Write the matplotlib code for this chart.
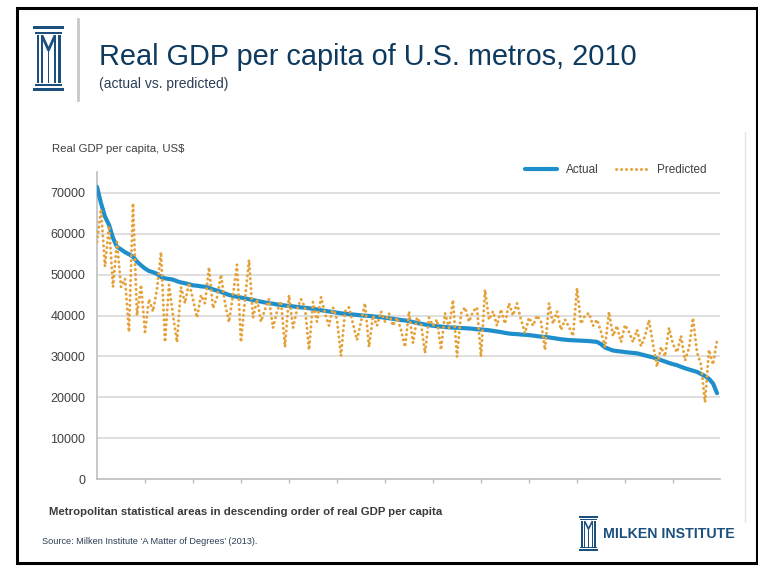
import matplotlib
matplotlib.use("Agg")
from matplotlib import pyplot as plt
from matplotlib.patches import Rectangle
import numpy as np

W, H = 758, 566

# real GDP per capita by metro, sorted by actual value (US$)
actual = [
    71500, 67500, 64200, 62200, 59000, 56800, 56200, 55500, 55000, 54400,
    53200, 52300, 51500, 50900, 50600, 50200, 49400, 49100, 48950, 48800,
    48400, 48100, 47900, 47650, 47400, 47300, 47150, 47050, 46800, 46400,
    46100, 45800, 45400, 45050, 44800, 44600, 44400, 44200, 44000, 43800,
    43600, 43400, 43200, 43000, 42900, 42700, 42600, 42450, 42350, 42250,
    42100, 42000, 41900, 41800, 41650, 41500, 41300, 41150, 41000, 40850,
    40700, 40550, 40450, 40350, 40250, 40150, 40050, 39950, 39900, 39800,
    39700, 39600, 39450, 39350, 39200, 39050, 38900, 38800, 38650, 38400,
    38200, 38000, 37800, 37650, 37500, 37400, 37300, 37200, 37100, 37050,
    37000, 36950, 36900, 36850, 36750, 36650, 36600, 36500, 36400, 36250,
    36100, 35950, 35750, 35600, 35500, 35450, 35350, 35300, 35200, 35100,
    34950, 34850, 34750, 34650, 34500, 34350, 34200, 34100, 34000, 33950,
    33900, 33850, 33800, 33750, 33650, 33550, 33000, 32200, 31800, 31450,
    31300, 31200, 31050, 30950, 30850, 30750, 30500, 30250, 30000, 29750,
    29500, 29100, 28750, 28400, 28100, 27850, 27450, 27100, 26800, 26500,
    26200, 25700, 25200, 24500, 23400, 21000,
]

predicted = [
    58000, 66000, 52000, 62000, 47000, 58000, 47000, 49000, 36000, 67500,
    40000, 47500, 36000, 44000, 41000, 46500, 55500, 33500, 47500, 40000,
    33500, 47000, 43000, 48000, 44000, 39500, 45000, 43000, 51800, 41800,
    44500, 50000, 43000, 38400, 45000, 52400, 33500, 44000, 53600, 39500,
    44000, 38500, 41500, 44000, 37000, 41000, 43500, 32300, 45000, 37000,
    41500, 44000, 42000, 31600, 43300, 38500, 44500, 40500, 37500, 42000,
    39000, 30100, 41000, 42000, 38000, 34000, 38500, 43000, 32300, 40000,
    37500, 41000, 38500, 40500, 37500, 39500, 36500, 32300, 41000, 33300,
    39500, 38000, 30800, 39500, 37500, 39000, 31600, 40600, 37000, 43800,
    29900, 40500, 42000, 38500, 41000, 42000, 29900, 46300, 39000, 41000,
    37500, 41500, 38000, 43000, 40000, 43000, 39000, 35700, 39500, 37500,
    40000, 38500, 31600, 43000, 38000, 41000, 36500, 39000, 37200, 35000,
    46700, 38000, 40000, 40600, 37500, 39000, 36000, 32300, 40900, 35000,
    37500, 33500, 37700, 36000, 33500, 36500, 32500, 35000, 38900, 33000,
    27500, 32300, 30000, 37000, 33000, 31000, 35000, 29000, 32000, 39400,
    31000, 28000, 18800, 31600, 28000, 34000,
]

yticks = [0, 10000, 20000, 30000, 40000, 50000, 60000, 70000]

navy = "#0E3A5F"
logo_blue = "#1B4F7E"
sans = "Liberation Sans"

fig = plt.figure(figsize=(W / 100, H / 100), dpi=100)

# page layer in pixel coordinates
bg = fig.add_axes([0, 0, 1, 1])
bg.set_xlim(0, W)
bg.set_ylim(H, 0)
bg.axis("off")


def column_logo(ax, x0, y0, w, h, color):
    # little column with an M cut into it
    sx = w / 31.0
    sy = h / 65.0
    def bar(x, y, bw, bh):
        ax.add_patch(Rectangle((x0 + x * sx, y0 + y * sy), bw * sx, bh * sy,
                               color=color, lw=0))
    bar(0, 0, 31, 3.2)
    bar(2, 5.5, 27, 2.0)
    bar(3.5, 9, 2.4, 48)
    bar(25.1, 9, 2.4, 48)
    bar(8, 9, 2.0, 48)
    bar(21, 9, 2.0, 48)
    ax.plot([x0 + 9 * sx, x0 + 15.5 * sx, x0 + 22 * sx],
            [y0 + 9.5 * sy, y0 + 24 * sy, y0 + 9.5 * sy], color=color,
            lw=2.0 * sx, solid_capstyle="butt")
    bar(14.6, 24, 1.8, 33)
    bar(2, 58, 27, 2.0)
    bar(0, 61.8, 31, 3.2)


bg.add_patch(Rectangle((17, 8), 740, 555, fill=False, ec="black", lw=2.2))
column_logo(bg, 33, 26, 31, 65, logo_blue)
bg.plot([78, 78], [19, 100], color="#C8C8C8", lw=2.0)
bg.text(99, 57, "Real GDP per capita of U.S. metros, 2010", fontsize=20.8,
        family=sans, color=navy, va="center", ha="left")
bg.text(99, 84, "(actual vs. predicted)", fontsize=10,
        family=sans, color="#2B3E55", va="center", ha="left")

# faint edge of the chart panel
bg.plot([745, 745], [132, 522], color="#E4E4E4", lw=1.0)

bg.text(52, 149, "Real GDP per capita, US$", fontsize=8.2, family=sans,
        color="#404040", va="center", ha="left")
bg.text(49, 512, "Metropolitan statistical areas in descending order of real GDP per capita",
        fontsize=8.2, family=sans, fontweight="bold", color="#3A3A3A",
        va="center", ha="left")
bg.text(42, 541, "Source: Milken Institute \u2018A Matter of Degrees\u2019 (2013).",
        fontsize=6.6, family=sans, color="#2B3E55", va="center",
        ha="left")

column_logo(bg, 579, 516, 19, 35, logo_blue)
bg.text(603, 534, "MILKEN INSTITUTE", fontsize=10.2, family=sans,
        fontweight="bold", color=logo_blue, va="center", ha="left")

# chart
ax = fig.add_axes([97 / W, (H - 479) / H, (720 - 97) / W, (479 - 172) / H])
x = np.arange(len(actual))
ax.plot(x, actual, color="#1F8FCB", lw=3.0, solid_capstyle="round",
        label="Actual", zorder=3)
ax.plot(x, predicted, color="#E6A23A", lw=2.1, linestyle=(0, (0.1, 1.6)),
        dash_capstyle="round", label="Predicted", zorder=4)

ax.set_xlim(0, 155.75)
ax.set_ylim(0, 75130)
ax.set_yticks(yticks)
ax.set_yticklabels([str(v) for v in yticks], family=sans, fontsize=9,
                   color="#404040")
ax.tick_params(axis="y", length=0, pad=8.5)
ax.set_xticks(np.arange(12, 156, 12))
ax.set_xticklabels([])
ax.tick_params(axis="x", length=3, color="#BFBFBF", width=1.0)
ax.grid(axis="y", color="#D9D9D9", lw=1.2)
ax.set_axisbelow(True)
for side in ["top", "right"]:
    ax.spines[side].set_visible(False)
for side in ["left", "bottom"]:
    ax.spines[side].set_color("#BFBFBF")
    ax.spines[side].set_linewidth(1.2)

leg = ax.legend(loc="center right", bbox_to_anchor=(0.995, 1.006), ncol=2,
                frameon=False, handlelength=2.7, columnspacing=1.45,
                handletextpad=0.76, prop={"family": sans, "size": 8.5})
for t in leg.get_texts():
    t.set_color("#404040")

fig.savefig("out.png", dpi=100)
